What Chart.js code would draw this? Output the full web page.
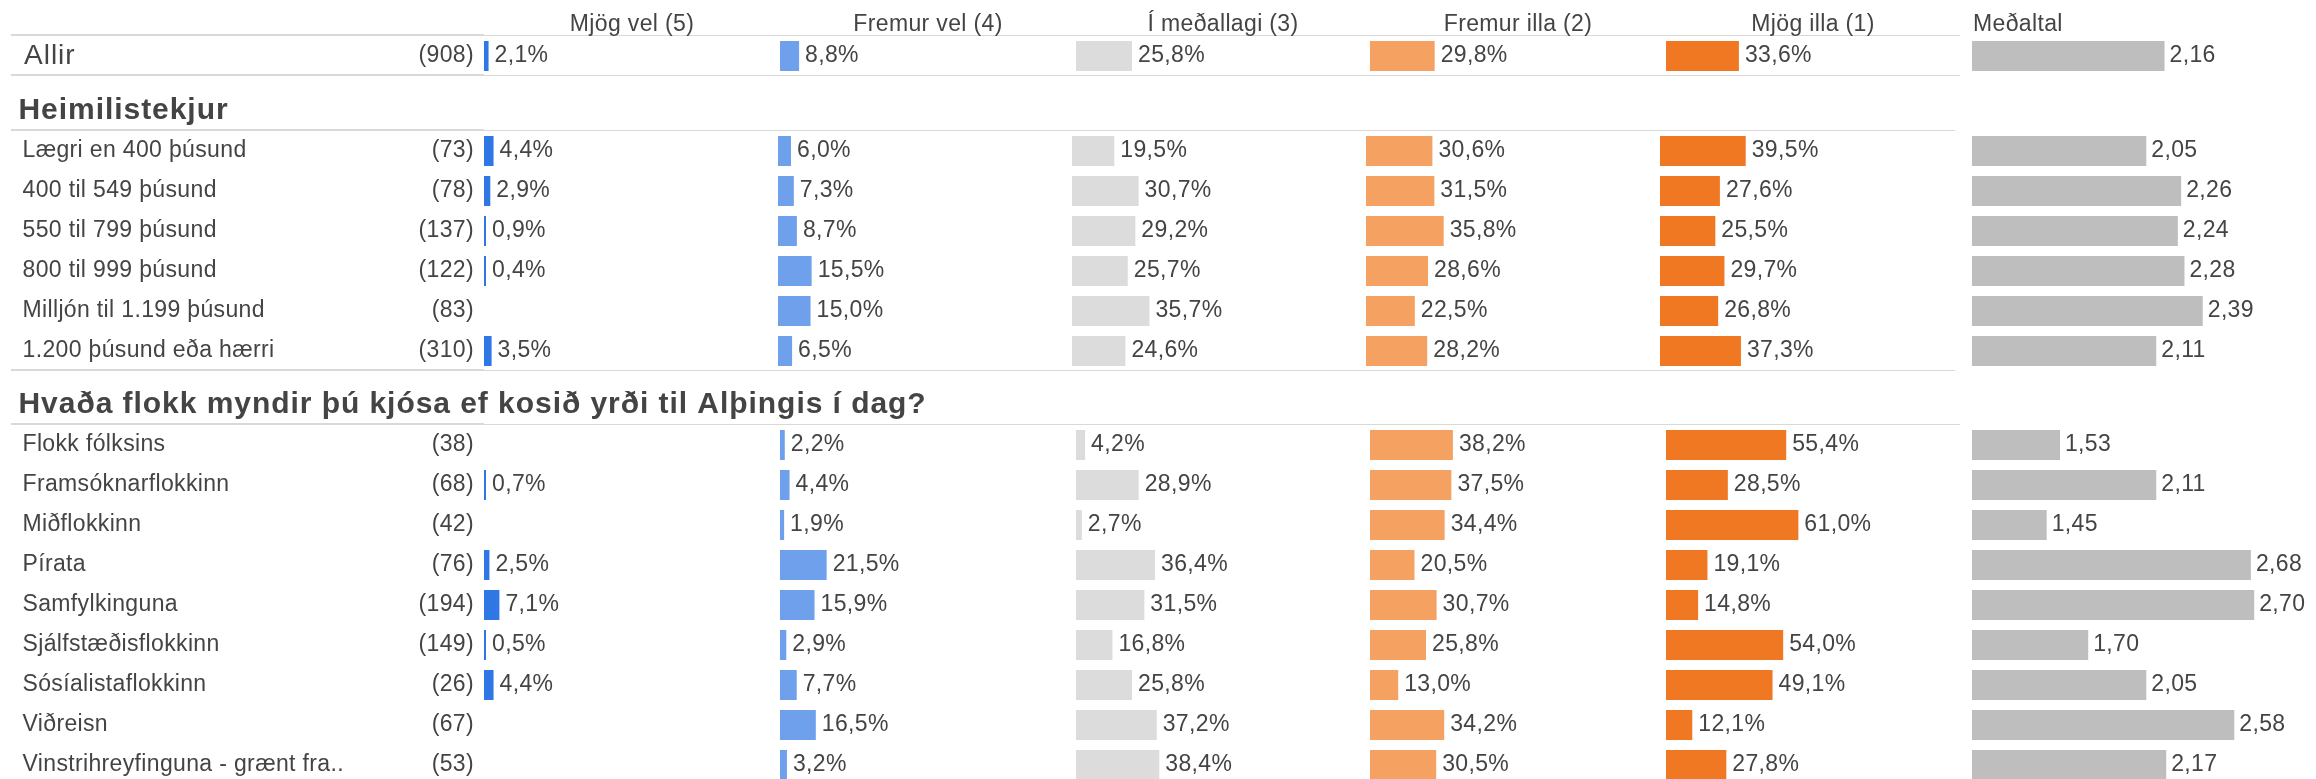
<!DOCTYPE html>
<html lang="is">
<head>
<meta charset="utf-8">
<script src="https://cdn.jsdelivr.net/npm/chart.js@4/dist/chart.umd.min.js"></script>
<style>
  html, body { margin: 0; padding: 0; background: #fff; width: 2316px; height: 779px; overflow: hidden; }
  canvas { position: absolute; left: 0; }
</style>
</head>
<body>
<canvas id="cAll" width="2316" height="76" style="top:0px"></canvas>
<canvas id="cInc" width="2316" height="295" style="top:76px"></canvas>
<canvas id="cPar" width="2316" height="414" style="top:371px"></canvas>
<script>
// ---------------- DATA ----------------
const columnHeaders = ['Mjög vel (5)', 'Fremur vel (4)', 'Í meðallagi (3)', 'Fremur illa (2)', 'Mjög illa (1)', 'Meðaltal'];

const allLabels = ['Allir'];
const allCounts = [908];
const allVeryWell    = [2.1];
const allFairlyWell  = [8.8];
const allAverage     = [25.8];
const allFairlyBadly = [29.8];
const allVeryBadly   = [33.6];
const allMean        = [2.16];

const incomeHeading = 'Heimilistekjur';
const incomeLabels = ['Lægri en 400 þúsund', '400 til 549 þúsund', '550 til 799 þúsund', '800 til 999 þúsund', 'Milljón til 1.199 þúsund', '1.200 þúsund eða hærri'];
const incomeCounts = [73, 78, 137, 122, 83, 310];
const incomeVeryWell    = [4.4, 2.9, 0.9, 0.4, null, 3.5];
const incomeFairlyWell  = [6.0, 7.3, 8.7, 15.5, 15.0, 6.5];
const incomeAverage     = [19.5, 30.7, 29.2, 25.7, 35.7, 24.6];
const incomeFairlyBadly = [30.6, 31.5, 35.8, 28.6, 22.5, 28.2];
const incomeVeryBadly   = [39.5, 27.6, 25.5, 29.7, 26.8, 37.3];
const incomeMean        = [2.05, 2.26, 2.24, 2.28, 2.39, 2.11];

const partyHeading = 'Hvaða flokk myndir þú kjósa ef kosið yrði til Alþingis í dag?';
const partyLabels = ['Flokk fólksins', 'Framsóknarflokkinn', 'Miðflokkinn', 'Pírata', 'Samfylkinguna', 'Sjálfstæðisflokkinn', 'Sósíalistaflokkinn', 'Viðreisn', 'Vinstrihreyfinguna - grænt fra..'];
const partyCounts = [38, 68, 42, 76, 194, 149, 26, 67, 53];
const partyVeryWell    = [null, 0.7, null, 2.5, 7.1, 0.5, 4.4, null, null];
const partyFairlyWell  = [2.2, 4.4, 1.9, 21.5, 15.9, 2.9, 7.7, 16.5, 3.2];
const partyAverage     = [4.2, 28.9, 2.7, 36.4, 31.5, 16.8, 25.8, 37.2, 38.4];
const partyFairlyBadly = [38.2, 37.5, 34.4, 20.5, 30.7, 25.8, 13.0, 34.2, 30.5];
const partyVeryBadly   = [55.4, 28.5, 61.0, 19.1, 14.8, 54.0, 49.1, 12.1, 27.8];
const partyMean        = [1.53, 2.11, 1.45, 2.68, 2.70, 1.70, 2.05, 2.58, 2.17];

// ---------------- STYLE / LAYOUT ----------------
const COLORS = ['#2f77e4', '#6ea0ec', '#dcdcdc', '#f4a162', '#f07823', '#bebebe'];
const TEXT_COLOR = '#444444';
const LINE_COLOR = '#d9d9d9';
const FAMILY = '"Liberation Sans", Arial, Helvetica, sans-serif';
const FONT = '23px ' + FAMILY;
const SPACING = '0.35px';
const PCT_PX = 2.17;     // pixels per percentage point
const MEAN_PX = 166;     // pixels per mean unit
const MEAN_START = 1972; // pixel where mean = 1
const wideCols   = [484, 780, 1076, 1370, 1666, 1960, 2316];
const incomeCols = [484, 778, 1072, 1366, 1660, 1955, 2316];

const fmtPct  = v => v.toFixed(1).replace('.', ',') + '%';
const fmtMean = v => v.toFixed(2).replace('.', ',');

const sectionText = {
  id: 'sectionText',
  afterDatasetsDraw(chart, args, o) {
    const ctx = chart.ctx, ca = chart.chartArea, ys = chart.scales.y;
    const xs = [0, 1, 2, 3, 4, 5].map(i => chart.scales['x' + i]);
    ctx.save();
    // separator lines
    ctx.fillStyle = LINE_COLOR;
    const lineEnd = xs[4].right;
    const hline = (y) => {
      ctx.fillRect(11, y - 2, ca.left - 11, 2);
      ctx.fillRect(ca.left, y - 1, lineEnd - ca.left, 1);
    };
    hline(ca.top);
    if (o.bottomLine) hline(ca.bottom);

    ctx.fillStyle = TEXT_COLOR;
    // section heading
    if (o.heading) {
      ctx.font = 'bold 30px ' + FAMILY;
      ctx.letterSpacing = '0.95px';
      ctx.textAlign = 'left';
      ctx.textBaseline = 'alphabetic';
      ctx.fillText(o.heading, 18.5, ca.top - 12);
    }
    // column headers
    if (o.headers) {
      ctx.font = FONT;
      ctx.letterSpacing = SPACING;
      ctx.textBaseline = 'alphabetic';
      ctx.textAlign = 'center';
      for (let i = 0; i < 5; i++) {
        ctx.fillText(o.headers[i], (xs[i].left + xs[i].right) / 2, ca.top - 5);
      }
      ctx.textAlign = 'left';
      ctx.fillText(o.headers[5], xs[5].getPixelForValue(1) + 1, ca.top - 5);
    }
    // row labels and counts
    ctx.textBaseline = 'middle';
    o.labels.forEach((lab, i) => {
      const py = ys.getPixelForValue(i);
      ctx.font = o.labelFont;
      ctx.letterSpacing = o.labelSpacing;
      ctx.textAlign = 'left';
      ctx.fillText(lab, o.labelX, py);
      ctx.font = FONT;
      ctx.letterSpacing = SPACING;
      ctx.textAlign = 'right';
      ctx.fillText('(' + o.counts[i] + ')', 474, py);
    });
    // value labels
    ctx.font = FONT;
    ctx.letterSpacing = SPACING;
    ctx.textAlign = 'left';
    chart.data.datasets.forEach((ds, di) => {
      const meta = chart.getDatasetMeta(di);
      meta.data.forEach((bar, i) => {
        const v = ds.data[i];
        if (v === null || v === undefined) return;
        const txt = di < 5 ? fmtPct(v) : fmtMean(v);
        ctx.fillText(txt, bar.x + (di < 5 ? 6 : 5), bar.y);
      });
    });
    ctx.restore();
  }
};

function makeSection(id, cfg) {
  const scales = { y: { type: 'category', display: false, grid: { display: false } } };
  for (let i = 0; i < 6; i++) {
    const w = cfg.cols[i + 1] - cfg.cols[i];
    let min = 0, max = w / PCT_PX;
    if (i === 5) {
      min = 1 - (MEAN_START - cfg.cols[5]) / MEAN_PX;
      max = min + w / MEAN_PX;
    }
    scales['x' + i] = {
      type: 'linear', position: 'bottom', stack: 'cols', stackWeight: w, weight: i,
      min, max, bounds: 'data', display: false, grid: { display: false }
    };
  }
  const datasets = cfg.series.map((arr, i) => ({
    data: arr,
    xAxisID: 'x' + i,
    yAxisID: 'y',
    backgroundColor: COLORS[i],
    borderWidth: 0,
    grouped: false,
    barPercentage: 0.75,
    categoryPercentage: 1,
    base: i === 5 ? 1 : 0,
    minBarLength: i === 5 ? 0 : 2
  }));
  return new Chart(document.getElementById(id), {
    type: 'bar',
    data: { labels: cfg.labels, datasets },
    options: {
      indexAxis: 'y',
      responsive: false,
      animation: false,
      events: [],
      layout: { padding: { left: cfg.cols[0], top: cfg.padTop, right: 0, bottom: 0 } },
      plugins: {
        legend: { display: false },
        tooltip: { enabled: false },
        sectionText: {
          labels: cfg.labels, counts: cfg.counts, heading: cfg.heading, headers: cfg.headers,
          bottomLine: cfg.bottomLine, labelFont: cfg.labelFont, labelSpacing: cfg.labelSpacing, labelX: cfg.labelX
        }
      },
      scales
    },
    plugins: [sectionText]
  });
}

makeSection('cAll', {
  labels: allLabels, counts: allCounts,
  series: [allVeryWell, allFairlyWell, allAverage, allFairlyBadly, allVeryBadly, allMean],
  cols: wideCols, padTop: 36, headers: columnHeaders, heading: null, bottomLine: true,
  labelFont: '28px ' + FAMILY, labelSpacing: '1px', labelX: 24
});
makeSection('cInc', {
  labels: incomeLabels, counts: incomeCounts,
  series: [incomeVeryWell, incomeFairlyWell, incomeAverage, incomeFairlyBadly, incomeVeryBadly, incomeMean],
  cols: incomeCols, padTop: 55, headers: null, heading: incomeHeading, bottomLine: true,
  labelFont: FONT, labelSpacing: SPACING, labelX: 22.5
});
makeSection('cPar', {
  labels: partyLabels, counts: partyCounts,
  series: [partyVeryWell, partyFairlyWell, partyAverage, partyFairlyBadly, partyVeryBadly, partyMean],
  cols: wideCols, padTop: 54, headers: null, heading: partyHeading, bottomLine: false,
  labelFont: FONT, labelSpacing: SPACING, labelX: 22.5
});
</script>
</body>
</html>
